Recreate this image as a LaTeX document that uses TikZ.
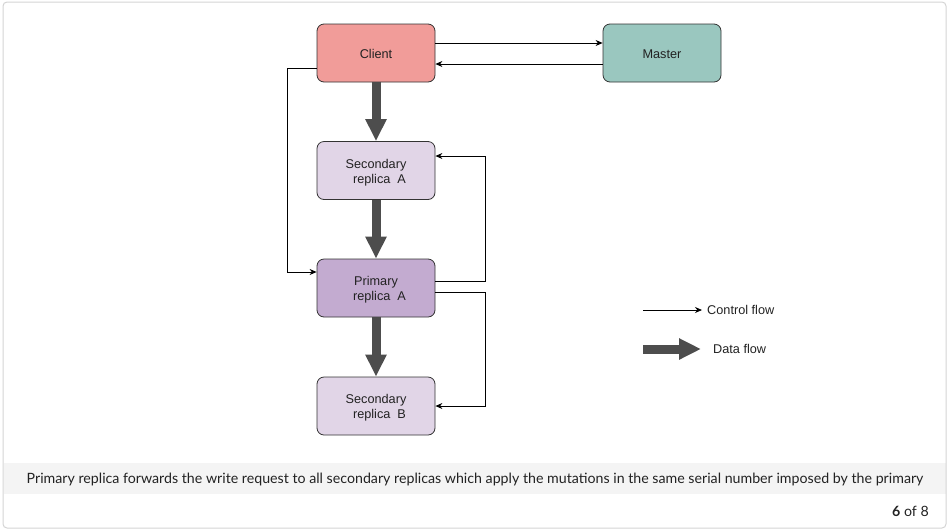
\documentclass[tikz,border=0pt]{standalone}
\usepackage{fontspec}
\setmainfont{Liberation Sans}
\newfontfamily\capfont{Lato}
\usetikzlibrary{arrows.meta}
\definecolor{clientc}{HTML}{F19C99}
\definecolor{masterc}{HTML}{9AC7BF}
\definecolor{secc}{HTML}{E1D5E7}
\definecolor{primc}{HTML}{C3ABD0}
\definecolor{flowc}{HTML}{4D4D4D}
\definecolor{framec}{HTML}{D4D4D4}
\definecolor{barc}{HTML}{F4F4F4}
\definecolor{edgec}{HTML}{333333}
\definecolor{txtc}{HTML}{222222}
\newcommand{\lowr}[2]{\raisebox{-#1}[\height][\depth]{#2}}
\begin{document}
\begin{tikzpicture}[x=1pt,y=-1pt,
  box/.style={draw=edgec, line width=0.8pt, rounded corners=7pt, minimum width=118pt,
    minimum height=58pt, align=center, font=\fontsize{12.7}{15}\selectfont, inner sep=0pt, text=txtc},
  ctrl/.style={-{Stealth[length=7pt,width=6pt]}, line width=0.8pt, black},
  data/.style={-{Triangle[length=22pt,width=20pt]}, line width=9pt, flowc},
  lbl/.style={anchor=west, font=\fontsize{12.7}{15}\selectfont, inner sep=0pt, text=txtc},
  captxt/.style={font=\capfont\fontsize{14.2}{16}\selectfont, text=txtc, inner sep=0pt}
]
\useasboundingbox (0,0) rectangle (950,531);
\fill[barc] (3.5,463) rectangle (945.5,494);
\draw[framec, rounded corners=4pt, line width=1pt] (3,2) rectangle (946,528);

\node[box, fill=clientc] (client) at (376,53) {\lowr{1pt}{Client}};
\node[box, fill=masterc] (master) at (662,53) {\lowr{1pt}{Master}};
\node[box, fill=secc] (secA) at (376,170.5) {\lowr{1.8pt}{Secondary}\\ \lowr{1.8pt}{\hspace*{7pt}replica~~A}};
\node[box, fill=primc] (prim) at (376,288) {\lowr{1.8pt}{Primary}\\ \lowr{1.8pt}{\hspace*{7pt}replica~~A}};
\node[box, fill=secc] (secB) at (376,406) {\lowr{1.8pt}{Secondary}\\ \lowr{1.8pt}{\hspace*{7pt}replica~~B}};

\coordinate (y43) at (0,43);
\coordinate (y64) at (0,64);
\coordinate (y68) at (0,68);
\coordinate (y272) at (0,272);
\coordinate (y281) at (0,281);
\coordinate (y292) at (0,292);
\coordinate (y156) at (0,156);
\coordinate (y406) at (0,406);
\coordinate (rx) at (485,0);

\draw[ctrl] (client.east |- y43) -- (master.west |- y43);
\draw[ctrl] (master.west |- y64) -- (client.east |- y64);
\draw[ctrl] (client.west |- y68) -- ++(-29,0) |- (prim.west |- y272);
\draw[ctrl] (prim.east |- y281) -| (rx |- y156) -- (secA.east |- y156);
\draw[ctrl] (prim.east |- y292) -| (rx |- y406) -- (secB.east |- y406);

\draw[data] (client.south) -- (secA.north);
\draw[data] (secA.south) -- (prim.north);
\draw[data] (prim.south) -- (secB.north);

\coordinate (la) at (643,310);
\coordinate (lb) at (702,310);
\draw[ctrl] (la) -- (lb);
\node[lbl] (lt1) at (707,310) {Control flow};
\coordinate (lc) at (643,349);
\coordinate (ld) at (701,349);
\draw[data] (lc) -- (ld);
\node[lbl] (lt2) at (713,349) {Data flow};

\node[captxt] (cap) at (475,479) {Primary replica forwards the write request to all secondary replicas which apply the mutations in the same serial number imposed by the primary};
\node[captxt, anchor=east] (pg) at (929,511) {\textbf{6} of 8};
\end{tikzpicture}
\end{document}
